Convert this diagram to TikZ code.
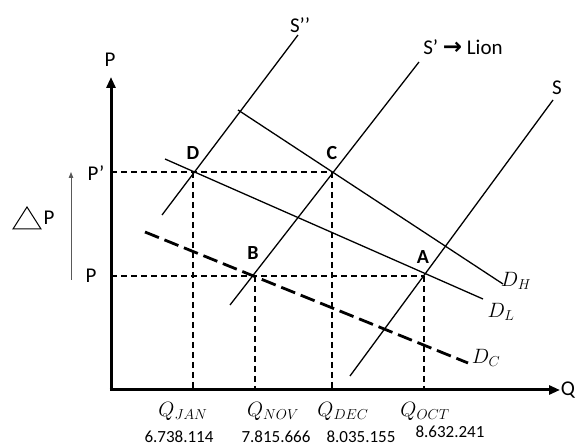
\documentclass[tikz,border=0pt]{standalone}
\usepackage{fontspec}
\setmainfont{Carlito}
\newfontfamily\arrowfont{DejaVu Sans}
\usetikzlibrary{arrows.meta}
\begin{document}
\begin{tikzpicture}[x=1pt,y=-1pt,
  curve/.style={line width=1.3pt},
  guide/.style={line width=1.1pt, dash pattern=on 6pt off 4pt},
  axisline/.style={line width=3pt, -{Triangle[length=11pt,width=9pt]}},
  lbl/.style={font=\fontsize{21}{21}\selectfont, inner sep=0pt},
  ptlbl/.style={font=\bfseries\fontsize{20}{20}\selectfont, inner sep=0pt},
  qlbl/.style={font=\fontsize{20}{20}\selectfont, inner sep=0pt},
  numlbl/.style={font=\fontsize{17}{17}\selectfont, inner sep=0pt}]
\useasboundingbox (0,0) rectangle (576,446);
% key points
\coordinate (O) at (111,390);
\coordinate (Ptop) at (111,77);
\coordinate (Qend) at (560,390);
\coordinate (D) at (193,172);
\coordinate (C) at (332,172);
\coordinate (B) at (255,276);
\coordinate (A) at (424,276);
\coordinate (yPp) at (111,172);
\coordinate (yP) at (111,276);
\coordinate (xD) at (193,390);
\coordinate (xB) at (255,390);
\coordinate (xC) at (332,390);
\coordinate (xA) at (424,390);
% guides
\draw[guide] (yPp) -- (C);
\draw[guide] (yP) -- (A);
\draw[guide] (D) -- (xD);
\draw[guide] (B) -- (xB);
\draw[guide] (C) -- (xC);
\draw[guide] (A) -- (xA);
% supply curves
\coordinate (S2a) at (162,215); \coordinate (S2b) at (298,35);
\coordinate (S1a) at (230,305); \coordinate (S1b) at (419,62);
\coordinate (S0a) at (350,376); \coordinate (S0b) at (553,100);
\draw[curve] (S2a) -- (S2b);
\draw[curve] (S1a) -- (S1b);
\draw[curve] (S0a) -- (S0b);
% demand curves
\coordinate (DHa) at (238,110); \coordinate (DHb) at (503,284);
\coordinate (DLa) at (165,159); \coordinate (DLb) at (483,299);
\coordinate (DCa) at (145,232); \coordinate (DCb) at (468,363);
\draw[curve] (DHa) -- (DHb);
\draw[curve] (DLa) -- (DLb);
\draw[line width=2.8pt, dash pattern=on 15pt off 6pt] (DCa) -- (DCb);
% axes
\draw[axisline] (O) -- (Ptop);
\draw[axisline] ([xshift=-1.5pt]O) -- (Qend);
% delta P
\coordinate (dPa) at (71,280); \coordinate (dPb) at (71,172);
\draw[gray!70!black, line width=0.9pt, -{Triangle[length=6pt,width=4.5pt]}] (dPa) -- (dPb);
\draw[line width=1pt] (13,229) -- (41,229) -- (27,207) -- cycle;
\node[lbl] (dP) at (49,218) {P};
% labels
\node[lbl] (Plab) at (110,60) {P};
\node[lbl] (Qlab) at (568,390) {Q};
\node[lbl] (Pplab) at (96,173) {P’};
\node[lbl] (Plab2) at (91,276) {P};
\node[lbl] (S2lab) at (300,25) {S’’};
\node[lbl] (S1lab) at (463,47) {S’ {\arrowfont\fontsize{23}{23}\selectfont\bfseries →} Lion};
\node[lbl] (S0lab) at (557,88) {S};
\node[ptlbl] (Dlab) at (193,153) {D};
\node[ptlbl] (Clab) at (332,153) {C};
\node[ptlbl] (Blab) at (253,253) {B};
\node[ptlbl] (Alab) at (423,257) {A};
\node[qlbl] (DHlab) at (516,281) {$D_H$};
\node[qlbl] (DLlab) at (501,312) {$D_L$};
\node[qlbl] (DClab) at (486,358) {$D_C$};
\node[qlbl] (QJ) at (183,411) {$Q_{JAN}$};
\node[qlbl] (QN) at (273,411) {$Q_{NOV}$};
\node[qlbl] (QD) at (343,411) {$Q_{DEC}$};
\node[qlbl] (QO) at (425,411) {$Q_{OCT}$};
\node[numlbl] (NJ) at (179,437) {6.738.114};
\node[numlbl] (NN) at (276,437) {7.815.666};
\node[numlbl] (ND) at (361,437) {8.035.155};
\node[numlbl] (NO) at (450,432) {8.632.241};
\end{tikzpicture}
\end{document}
